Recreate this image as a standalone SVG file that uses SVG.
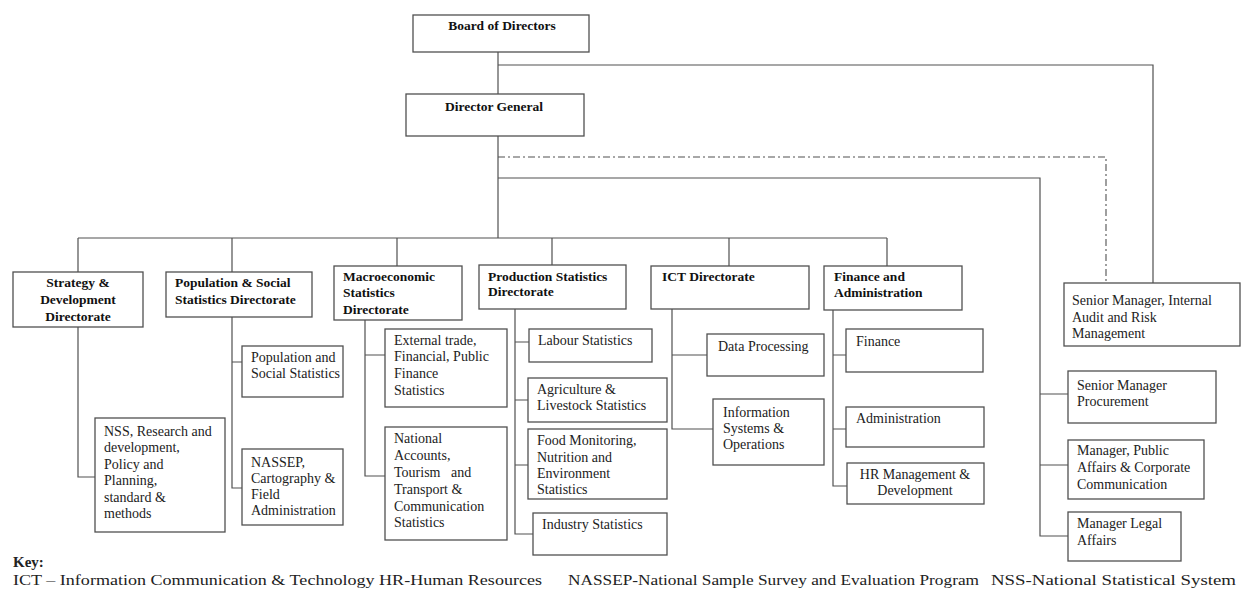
<svg xmlns="http://www.w3.org/2000/svg" width="1241" height="590" viewBox="0 0 1241 590">
<style>
.bx{fill:#fff;stroke:#505050;stroke-width:1.3}
.t{font-family:"Liberation Serif",serif;font-size:14px;fill:#222}
.b{font-family:"Liberation Serif",serif;font-size:13.5px;font-weight:bold;fill:#111}
.c{text-anchor:middle}
.ln{fill:none;stroke:#505050;stroke-width:1.2}
.dd{fill:none;stroke:#505050;stroke-width:1.1;stroke-dasharray:7 3 2 3}
.k{font-family:"Liberation Serif",serif;font-size:15px;fill:#222}
</style>
<rect width="1241" height="590" fill="#fff"/>
<g id="connectors">
<path class="ln" d="M498 52V238"/>
<path class="ln" d="M498 65H1153V283"/>
<path class="dd" d="M498 157H1106V283"/>
<path class="ln" d="M498 178H1040V536H1068M1040 394H1068M1040 465H1068"/>
<path class="ln" d="M78 238H887M78 238V272M232 238V272M397 238V266M552 238V265M729 238V266M887 238V266"/>
<path class="ln" d="M78 327V477H95"/>
<path class="ln" d="M232 317V488H242M232 362H242"/>
<path class="ln" d="M365 320V476H385M365 355H385"/>
<path class="ln" d="M515 309V534H533M515 342H529M515 400H528M515 465H528"/>
<path class="ln" d="M672 309V429H713M672 355H707"/>
<path class="ln" d="M833 310V486H847M833 355H846M833 429H846"/>
</g>
<g id="board"><rect class="bx" x="413" y="15" width="176" height="37"/><text class="b c" x="502" y="30">Board of Directors</text></g>
<g id="dg"><rect class="bx" x="406" y="94" width="178" height="42"/><text class="b" x="445" y="111">Director General</text></g>
<g id="strategy"><rect class="bx" x="13" y="272" width="130" height="55"/><text class="b c" x="78" y="287">Strategy &amp;</text><text class="b c" x="78" y="304">Development</text><text class="b c" x="78" y="321">Directorate</text></g>
<g id="population"><rect class="bx" x="166" y="272" width="146" height="45"/><text class="b" x="175" y="287">Population &amp; Social</text><text class="b" x="175" y="304">Statistics Directorate</text></g>
<g id="macro"><rect class="bx" x="334" y="266" width="128" height="54"/><text class="b" x="343" y="281">Macroeconomic</text><text class="b" x="343" y="297">Statistics</text><text class="b" x="343" y="314">Directorate</text></g>
<g id="production"><rect class="bx" x="479" y="265" width="147" height="44"/><text class="b" x="488" y="281">Production Statistics</text><text class="b" x="488" y="296">Directorate</text></g>
<g id="ict"><rect class="bx" x="651" y="266" width="158" height="43"/><text class="b" x="662" y="281">ICT Directorate</text></g>
<g id="finadmin"><rect class="bx" x="824" y="266" width="138" height="44"/><text class="b" x="834" y="281">Finance and</text><text class="b" x="834" y="297">Administration</text></g>
<g id="nss"><rect class="bx" x="95" y="418" width="130" height="114"/><text class="t" x="104" y="436">NSS, Research and</text><text class="t" x="104" y="452">development,</text><text class="t" x="104" y="469">Policy and</text><text class="t" x="104" y="485">Planning,</text><text class="t" x="104" y="502">standard &amp;</text><text class="t" x="104" y="518">methods</text></g>
<g id="popsocial"><rect class="bx" x="242" y="346" width="101" height="51"/><text class="t" x="251" y="362">Population and</text><text class="t" x="251" y="378">Social Statistics</text></g>
<g id="nassep"><rect class="bx" x="242" y="449" width="101" height="76"/><text class="t" x="251" y="467">NASSEP,</text><text class="t" x="251" y="483">Cartography &amp;</text><text class="t" x="251" y="499">Field</text><text class="t" x="251" y="515">Administration</text></g>
<g id="external"><rect class="bx" x="385" y="329" width="122" height="78"/><text class="t" x="394" y="345">External trade,</text><text class="t" x="394" y="361">Financial, Public</text><text class="t" x="394" y="378">Finance</text><text class="t" x="394" y="395">Statistics</text></g>
<g id="national"><rect class="bx" x="385" y="427" width="122" height="113"/><text class="t" x="394" y="443">National</text><text class="t" x="394" y="460">Accounts,</text><text class="t" x="394" y="477" style="white-space:pre">Tourism   and</text><text class="t" x="394" y="494">Transport &amp;</text><text class="t" x="394" y="511">Communication</text><text class="t" x="394" y="527">Statistics</text></g>
<g id="labour"><rect class="bx" x="529" y="329" width="123" height="33"/><text class="t" x="538" y="345">Labour Statistics</text></g>
<g id="agri"><rect class="bx" x="528" y="378" width="139" height="44"/><text class="t" x="537" y="394">Agriculture &amp;</text><text class="t" x="537" y="410">Livestock Statistics</text></g>
<g id="food"><rect class="bx" x="528" y="429" width="139" height="70"/><text class="t" x="537" y="445">Food Monitoring,</text><text class="t" x="537" y="462">Nutrition and</text><text class="t" x="537" y="478">Environment</text><text class="t" x="537" y="494">Statistics</text></g>
<g id="industry"><rect class="bx" x="533" y="513" width="134" height="42"/><text class="t" x="542" y="529">Industry Statistics</text></g>
<g id="dataproc"><rect class="bx" x="707" y="334" width="117" height="42"/><text class="t" x="718" y="351">Data Processing</text></g>
<g id="infosys"><rect class="bx" x="713" y="399" width="111" height="66"/><text class="t" x="723" y="417">Information</text><text class="t" x="723" y="433">Systems &amp;</text><text class="t" x="723" y="449">Operations</text></g>
<g id="finance"><rect class="bx" x="846" y="329" width="137" height="43"/><text class="t" x="856" y="346">Finance</text></g>
<g id="admin"><rect class="bx" x="846" y="407" width="138" height="40"/><text class="t" x="856" y="423">Administration</text></g>
<g id="hr"><rect class="bx" x="847" y="463" width="137" height="41"/><text class="t c" x="915" y="479">HR Management &amp;</text><text class="t c" x="915" y="495">Development</text></g>
<g id="audit"><rect class="bx" x="1064" y="283" width="176" height="63"/><text class="t" x="1072" y="305">Senior Manager, Internal</text><text class="t" x="1072" y="322">Audit and Risk</text><text class="t" x="1072" y="338">Management</text></g>
<g id="procurement"><rect class="bx" x="1068" y="371" width="148" height="52"/><text class="t" x="1077" y="390">Senior Manager</text><text class="t" x="1077" y="406">Procurement</text></g>
<g id="publicaffairs"><rect class="bx" x="1068" y="440" width="136" height="59"/><text class="t" x="1077" y="455">Manager, Public</text><text class="t" x="1077" y="472">Affairs &amp; Corporate</text><text class="t" x="1077" y="489">Communication</text></g>
<g id="legal"><rect class="bx" x="1068" y="512" width="113" height="49"/><text class="t" x="1077" y="528">Manager Legal</text><text class="t" x="1077" y="545">Affairs</text></g>
<g id="key">
<text class="k" x="13" y="567" font-weight="bold">Key:</text>
<text class="k" x="13" y="585" textLength="529" lengthAdjust="spacingAndGlyphs">ICT – Information Communication &amp; Technology HR-Human Resources</text>
<text class="k" x="568" y="585" textLength="411" lengthAdjust="spacingAndGlyphs">NASSEP-National Sample Survey and Evaluation Program</text>
<text class="k" x="991" y="585" textLength="245" lengthAdjust="spacingAndGlyphs">NSS-National Statistical System</text>
</g>
</svg>
